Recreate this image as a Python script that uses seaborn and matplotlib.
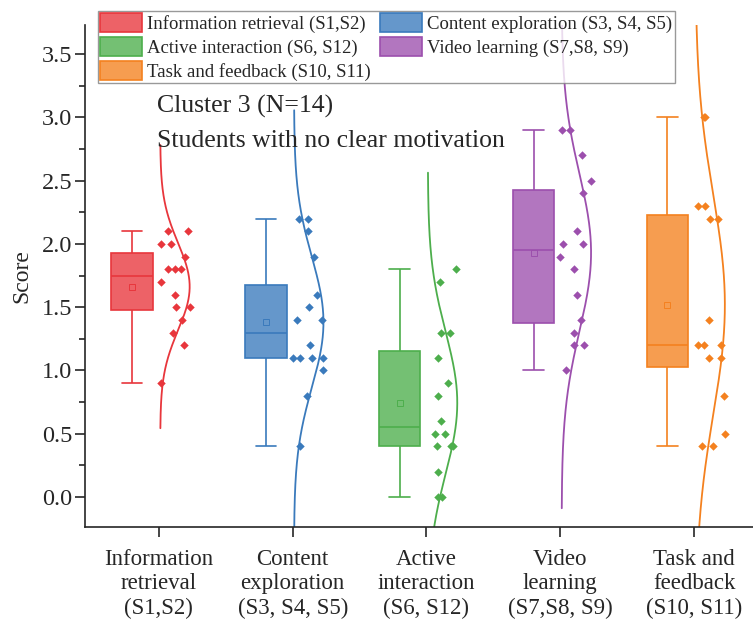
import numpy as np
import pandas as pd
import matplotlib
matplotlib.use("Agg")
import matplotlib.pyplot as plt
from matplotlib.patches import Patch
from matplotlib.ticker import MultipleLocator, FormatStrFormatter
import seaborn as sns

# ---- data -------------------------------------------------------------
categories = [
    "Information retrieval (S1,S2)",
    "Content exploration (S3, S4, S5)",
    "Active interaction (S6, S12)",
    "Video learning (S7,S8, S9)",
    "Task and feedback (S10, S11)",
]
tick_labels = [
    "Information\nretrieval\n(S1,S2)",
    "Content\nexploration\n(S3, S4, S5)",
    "Active\ninteraction\n(S6, S12)",
    "Video\nlearning\n(S7,S8, S9)",
    "Task and\nfeedback\n(S10, S11)",
]
info_retrieval = [0.9, 1.2, 1.3, 1.4, 1.5, 1.5, 1.6, 1.7, 1.8, 1.8, 1.8, 1.9, 2.0, 2.0, 2.1, 2.1]
content_exploration = [0.4, 0.8, 1.0, 1.1, 1.1, 1.1, 1.1, 1.2, 1.4, 1.4, 1.5, 1.6, 1.9, 2.1, 2.2, 2.2]
active_interaction = [0.0, 0.0, 0.2, 0.4, 0.4, 0.4, 0.5, 0.5, 0.6, 0.8, 0.9, 1.1, 1.3, 1.3, 1.7, 1.8]
video_learning = [1.0, 1.2, 1.2, 1.3, 1.4, 1.6, 1.8, 1.9, 2.0, 2.0, 2.1, 2.4, 2.5, 2.7, 2.9, 2.9]
task_feedback = [0.4, 0.4, 0.5, 0.8, 1.1, 1.1, 1.2, 1.2, 1.2, 1.4, 2.2, 2.2, 2.3, 2.3, 3.0, 3.0]
series = [info_retrieval, content_exploration, active_interaction, video_learning, task_feedback]

# ---- styling ----------------------------------------------------------
edge_colors = ["#E8363C", "#3A7ABC", "#4DAE4C", "#9C4FAD", "#F4811F"]
fill_alpha = 0.78

sns.set_style("ticks")
plt.rcParams["font.family"] = ["Liberation Serif", "DejaVu Serif"]
plt.rcParams["axes.linewidth"] = 1.2

np.random.seed(7)

fig = plt.figure(figsize=(7.53, 6.19), dpi=100)
ax = fig.add_axes([85 / 753, 1 - 527 / 619, 1 - 85 / 753, (527 - 25) / 619])

box_shift = -0.20
point_shift = 0.12
curve_base = 0.01
curve_peak = 0.22


def lighten(hex_color, alpha):
    rgb = np.array(matplotlib.colors.to_rgb(hex_color))
    return tuple(alpha * rgb + (1 - alpha) * np.ones(3))


for i, (vals, edge) in enumerate(zip(series, edge_colors)):
    vals = np.asarray(vals, dtype=float)
    n = len(vals)
    fill = lighten(edge, fill_alpha)

    # box with whiskers over full range and hollow mean marker
    sns.boxplot(
        x=np.full(n, i + box_shift), y=vals, native_scale=True, ax=ax,
        width=0.31, whis=(0, 100), color=fill, linecolor=edge, saturation=1,
        linewidth=1.2, showmeans=True, showfliers=False,
        meanprops=dict(marker="s", markerfacecolor="none", markeredgecolor=edge,
                       markersize=5, markeredgewidth=0.7),
    )

    # jittered raw scores
    sns.stripplot(
        x=np.full(n, i + point_shift), y=vals, native_scale=True, ax=ax,
        jitter=0.12, color=edge, marker="D", size=4.3, linewidth=0,
    )

    # normal distribution curve drawn sideways
    m, s = vals.mean(), vals.std(ddof=1)
    yy = np.linspace(m - 3.25 * s, m + 3.25 * s, 300)
    xx = i + curve_base + curve_peak * np.exp(-0.5 * ((yy - m) / s) ** 2)
    ax.plot(xx, yy, color=edge, lw=1.3, zorder=1)

# ---- axes -------------------------------------------------------------
ax.set_xlim((84 - 158) / 134, (753 - 158) / 134)
ax.set_ylim(-0.237, 3.73)
ax.set_xticks(range(len(categories)))
ax.set_xticklabels(tick_labels, fontsize=16.5)
ax.yaxis.set_major_locator(MultipleLocator(0.5))
ax.yaxis.set_minor_locator(MultipleLocator(0.25))
ax.yaxis.set_major_formatter(FormatStrFormatter("%.1f"))
ax.tick_params(axis="y", labelsize=17.5, direction="out", length=7, width=1.2, pad=2)
ax.tick_params(axis="y", which="minor", direction="out", length=4, width=1.2, left=True)
ax.tick_params(axis="x", direction="out", length=7, width=1.2, pad=9)
ax.set_xlabel("")
ax.set_ylabel("Score", fontsize=17, labelpad=7)
sns.despine(ax=ax, top=True, right=True)

# ---- annotation -------------------------------------------------------
fig.text(157 / 753, 1 - 106 / 619, "Cluster 3 (N=14)", fontsize=18.5, va="center", ha="left")
fig.text(157 / 753, 1 - 141 / 619, "Students with no clear motivation", fontsize=18.5,
         va="center", ha="left")

# ---- legend -----------------------------------------------------------
order = [0, 2, 4, 1, 3]
handles = [Patch(facecolor=lighten(edge_colors[k], fill_alpha), edgecolor=edge_colors[k],
                 linewidth=1.2, label=categories[k]) for k in order]
leg = fig.legend(
    handles=handles, loc="upper left", bbox_to_anchor=(98 / 753, 1 - 11 / 619),
    ncol=2, fontsize=13.5, frameon=True, fancybox=False, borderaxespad=0,
    handlelength=2.2, handleheight=1.2, handletextpad=0.3, labelspacing=0.2,
    columnspacing=0.5, borderpad=0.12,
)
leg.get_frame().set_edgecolor("#808080")
leg.get_frame().set_linewidth(1.0)

fig.savefig("out.png", dpi=100)
